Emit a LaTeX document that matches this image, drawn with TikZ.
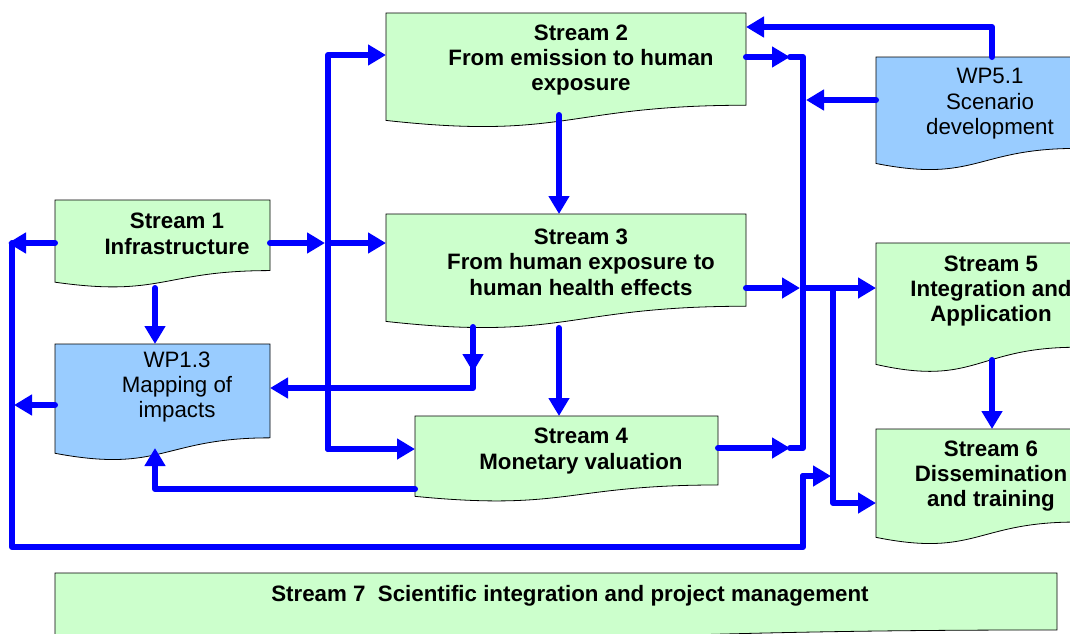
\documentclass[tikz,border=0pt]{standalone}
\usepackage{fontspec}
\setmainfont{Liberation Sans}
\usetikzlibrary{arrows.meta,calc}
\definecolor{sgreen}{HTML}{CCFFCC}
\definecolor{wpblue}{HTML}{99CCFF}
\definecolor{flowblue}{HTML}{0000FF}
% name, x, y, w, h, style
\newcommand\docshape[6]{%
  \path[#6] (#2,#3) -- (#2+#4,#3) -- (#2+#4,#3+0.802*#5)
    .. controls (#2+0.5*#4,#3+0.802*#5) and (#2+0.5*#4,#3+1.1075*#5) .. (#2,#3+0.934*#5) -- cycle;
  \node[inner sep=0pt,outer sep=0pt,minimum width=#4pt,minimum height=0.8*#5pt,anchor=north west] (#1) at (#2,#3) {};
}
\tikzset{
  greenbox/.style={fill=sgreen,draw=black,line width=0.8pt},
  bluebox/.style={fill=wpblue,draw=black,line width=0.8pt},
  txt/.style={align=center,inner sep=0pt,font=\fontsize{22.3}{25.4}\selectfont\bfseries},
  wptxt/.style={align=center,inner sep=0pt,font=\fontsize{22.3}{25.4}\selectfont},
  flow/.style={draw=flowblue,line width=6pt,line cap=round,line join=round},
  tip/.style={-{Triangle[length=18pt,width=20pt]}}
}
\begin{document}
\begin{tikzpicture}[x=1pt,y=-1pt]
\useasboundingbox (0,0) rectangle (1070,633);
\clip (0,0) rectangle (1070,633);
\fill[white] (0,0) rectangle (1070,633);
% boxes
\docshape{s1}{55}{200}{215}{88}{greenbox}
\docshape{w13}{55}{344}{215}{117}{bluebox}
\docshape{s2}{386}{13}{360}{115}{greenbox}
\docshape{s3}{386}{214}{360}{115}{greenbox}
\docshape{s4}{415}{416}{303}{86}{greenbox}
\docshape{w51}{876}{57}{200}{114}{bluebox}
\docshape{s5}{876}{243}{200}{130}{greenbox}
\docshape{s6}{876}{429}{200}{116}{greenbox}
\docshape{s7}{55}{573}{1002}{71}{greenbox}
% texts
\node[txt] (t1) at (177,234) {Stream 1\\Infrastructure};
\node[wptxt] (t13) at (177,387) {WP1.3\\Mapping of\\impacts};
\node[txt] (t2) at (581,60) {Stream 2\\From emission to human\\exposure};
\node[txt] (t3) at (581,262) {Stream 3\\From human exposure to\\human health effects};
\node[txt] (t4) at (581,451) {Stream 4\\Monetary valuation};
\node[wptxt] (t51) at (990,104) {WP5.1\\Scenario\\development};
\node[txt] (t5) at (991,291) {Stream 5\\Integration and\\Application};
\node[txt] (t6) at (991,476) {Stream 6\\Dissemination\\and training};
\node[txt] (t7) at (570,596) {Stream 7~ Scientific integration and project management};
% coordinates
\coordinate (lt) at (8,243);
\coordinate (lv) at (12,243);
\coordinate (lb) at (12,547);
\coordinate (rb) at (803,547);
\coordinate (rbu) at (803,476);
\coordinate (rbt) at (831,476);
\coordinate (wlt) at (14,405);
\coordinate (v1t) at (328,55);
\coordinate (v1b) at (328,449);
\coordinate (v1m) at (328,243);
\coordinate (v1a) at (325,243);
\coordinate (a23) at (559,115);
\coordinate (r2) at (790,57);
\coordinate (rv1) at (803,57);
\coordinate (rv2) at (803,448);
\coordinate (r4) at (790,448);
\coordinate (r51) at (806,100);
\coordinate (h1) at (992,27);
\coordinate (r3) at (800,288);
\coordinate (r3b) at (803,288);
\coordinate (br) at (833,288);
\coordinate (brb) at (833,503);
\coordinate (k1) at (473,327);
\coordinate (k2) at (473,372);
\coordinate (k2b) at (473,365);
\coordinate (k3) at (473,388);
\coordinate (l1) at (559,328);
\coordinate (m1) at (415,489);
\coordinate (m2) at (155,489);
\coordinate (m3) at (155,448);
\coordinate (n1) at (155,288);
\coordinate (o1) at (992,360);
% connectors
\draw[flow,tip] (s1.west |- lt) -- (lt);
\draw[flow] (lv) -- (lb) -- (rb) -- (rbu);
\draw[flow,tip] (rbu) -- (rbt);
\draw[flow,tip] (w13.west |- wlt) -- (wlt);
\draw[flow,tip] (s1.east |- v1m) -- (v1a);
\draw[flow,tip] (v1m) -- (s3.west |- v1m);
\draw[flow,tip] (v1b) -- (v1t) -- (s2.west |- v1t);
\draw[flow,tip] (v1b) -- (s4.west |- v1b);
\draw[flow,tip] (a23) -- (a23 |- s3.north);
\draw[flow] (r2) -- (rv1) -- (rv2) -- (r4);
\draw[flow,tip] (s2.east |- r2) -- (r2);
\draw[flow,tip] (s4.east |- r4) -- (r4);
\draw[flow,tip] (w51.west |- r51) -- (r51);
\draw[flow,tip] (w51.north -| h1) -- (h1) -- (s2.east |- h1);
\draw[flow,tip] (s3.east |- r3) -- (r3);
\draw[flow,tip] (r3b) -- (s5.west |- r3b);
\draw[flow,tip] (br) -- (brb) -- (s6.west |- brb);
\draw[flow,tip] (k1) -- (k2);
\draw[flow,tip] (k2b) -- (k3) -- (w13.east |- k3);
\draw[flow,tip] (l1) -- (l1 |- s4.north);
\draw[flow,tip] (s4.west |- m1) -- (m2) -- (m3);
\draw[flow,tip] (n1) -- (n1 |- w13.north);
\draw[flow,tip] (o1) -- (o1 |- s6.north);
\end{tikzpicture}
\end{document}
